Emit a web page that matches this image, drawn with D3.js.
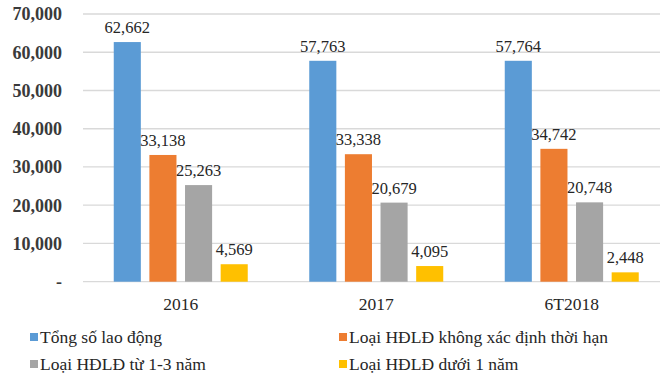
<!DOCTYPE html>
<html>
<head>
<meta charset="utf-8">
<script src="https://cdn.jsdelivr.net/npm/d3@7"></script>
<style>
  html, body { margin: 0; padding: 0; background: #fff; }
  svg { display: block; }
</style>
</head>
<body>
<svg id="chart" width="660" height="377"></svg>
<script>
const categories = ["2016", "2017", "6T2018"];
const seriesNames = [
  "Tổng số lao động",
  "Loại HĐLĐ không xác định thời hạn",
  "Loại HĐLĐ từ 1-3 năm",
  "Loại HĐLĐ dưới 1 năm"
];
const tongSo = [62662, 57763, 57764];
const khongXacDinh = [33138, 33338, 34742];
const tu1den3 = [25263, 20679, 20748];
const duoi1 = [4569, 4095, 2448];
const yTicks = [0, 10000, 20000, 30000, 40000, 50000, 60000, 70000];
const colors = ["#5B9BD5", "#ED7D31", "#A5A5A5", "#FFC000"];

const seriesValues = [tongSo, khongXacDinh, tu1den3, duoi1];

const svg = d3.select("#chart");
const font = "'Liberation Serif', 'Times New Roman', serif";

const plotLeft = 83, plotRight = 669.5, plotTop = 14, plotBottom = 281.7;

const y = d3.scaleLinear().domain([0, 70000]).range([plotBottom, plotTop]);
const x0 = d3.scaleBand().domain(categories).range([plotLeft, plotRight])
  .paddingInner(0.3146).paddingOuter(0.1573);
const x1 = d3.scaleBand().domain(seriesNames).range([0, x0.bandwidth()])
  .paddingInner(0.24).paddingOuter(0);

const fmt = d3.format(",");

// gridlines
svg.append("g").selectAll("line").data(yTicks).join("line")
  .attr("x1", plotLeft).attr("x2", 660)
  .attr("y1", d => y(d)).attr("y2", d => y(d))
  .attr("stroke", "#d9d9d9").attr("stroke-width", 1.3);

// y axis labels
svg.append("g").selectAll("text").data(yTicks).join("text")
  .attr("x", 62).attr("y", d => y(d))
  .attr("dy", "0.35em")
  .attr("text-anchor", "end")
  .attr("font-family", font).attr("font-size", 18).attr("font-weight", "bold")
  .attr("fill", "#3a3a3a")
  .text(d => d === 0 ? "-" : fmt(d));

// bars
const groups = svg.append("g").selectAll("g").data(categories).join("g")
  .attr("transform", c => `translate(${x0(c)},0)`);

groups.each(function(c, ci) {
  const g = d3.select(this);
  const data = seriesNames.map((s, si) => ({ s, si, v: seriesValues[si][ci] }));
  g.selectAll("rect").data(data).join("rect")
    .attr("x", d => x1(d.s))
    .attr("width", x1.bandwidth())
    .attr("y", d => y(d.v))
    .attr("height", d => y(0) - y(d.v))
    .attr("fill", d => colors[d.si]);
  g.selectAll("text").data(data).join("text")
    .attr("x", d => x1(d.s) + x1.bandwidth() / 2)
    .attr("y", d => y(d.v) - 9)
    .attr("text-anchor", "middle")
    .attr("font-family", font).attr("font-size", 16.5)
    .attr("fill", "#262626")
    .text(d => fmt(d.v));
});

// category labels
svg.append("g").selectAll("text").data(categories).join("text")
  .attr("x", c => x0(c) + x0.bandwidth() / 2)
  .attr("y", 310)
  .attr("text-anchor", "middle")
  .attr("font-family", font).attr("font-size", 17.5)
  .attr("fill", "#262626")
  .text(c => c);

// legend
const legendPos = [
  { x: 30, y: 333 }, { x: 339, y: 333 },
  { x: 30, y: 360 }, { x: 339, y: 360 }
];
const legend = svg.append("g").selectAll("g").data(seriesNames).join("g")
  .attr("transform", (d, i) => `translate(${legendPos[i].x},${legendPos[i].y})`);
legend.append("rect").attr("width", 8).attr("height", 8)
  .attr("fill", (d, i) => colors[i]);
legend.append("text").attr("x", 10).attr("y", 9.5)
  .attr("font-family", font).attr("font-size", 17.5)
  .attr("fill", "#262626")
  .text(d => d);
</script>
</body>
</html>
